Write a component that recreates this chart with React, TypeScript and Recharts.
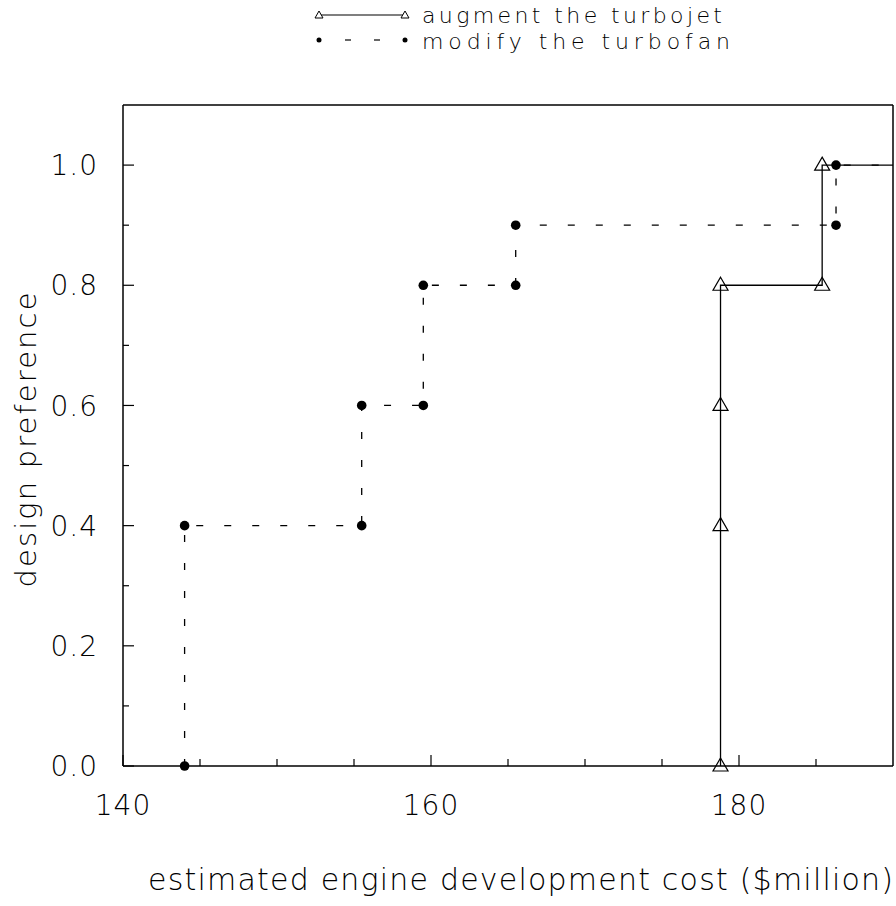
import React from 'react';
import { LineChart, Line, XAxis, YAxis, Legend, Label } from 'recharts';

// step curves (cost in $million, preference 0..1)
const turbojetCost = [178.8, 178.8, 178.8, 178.8, 185.4, 185.4, 190];
const turbojetPref = [0, 0.4, 0.6, 0.8, 0.8, 1.0, 1.0];
const turbofanCost = [144, 144, 155.5, 155.5, 159.5, 159.5, 165.5, 165.5, 186.3, 186.3, 190];
const turbofanPref = [0, 0.4, 0.4, 0.6, 0.6, 0.8, 0.8, 0.9, 0.9, 1.0, 1.0];

const costTicks = [140, 145, 150, 155, 160, 165, 170, 175, 180, 185];
const costLabels = [140, 160, 180];
const prefTicks = [0, 0.1, 0.2, 0.3, 0.4, 0.5, 0.6, 0.7, 0.8, 0.9, 1.0];
const prefLabels = [0, 0.2, 0.4, 0.6, 0.8, 1.0];

const turbojet = turbojetCost.map((cost, i) => ({ cost, pref: turbojetPref[i] }));
const turbofan = turbofanCost.map((cost, i) => ({ cost, pref: turbofanPref[i] }));

const FONT = "'DejaVu Sans', sans-serif";
const INK = '#000';
const X_MARGIN = 49;
const Y_MARGIN = 25;

const isLabel = (list: number[], v: number) => list.some((l) => Math.abs(l - v) < 1e-6);

const BottomTick = ({ x, y, payload }: any) => {
  const major = isLabel(costLabels, payload.value);
  const axisY = y - X_MARGIN;
  return (
    <g>
      <line x1={x} x2={x} y1={axisY} y2={axisY - (major ? 11 : 7)} stroke={INK} strokeWidth={1.2} />
      {major && (
        <text x={x} y={y} textAnchor="middle" fontFamily={FONT} fontWeight={200} fontSize={28} fill={INK} letterSpacing={1}>
          {payload.value}
        </text>
      )}
    </g>
  );
};

const TopTick = ({ x, y, payload }: any) => {
  const major = isLabel(costLabels, payload.value);
  return <line x1={x} x2={x} y1={y} y2={y + (major ? 11 : 7)} stroke={INK} strokeWidth={1.2} />;
};

const LeftTick = ({ x, y, payload }: any) => {
  const major = isLabel(prefLabels, payload.value);
  const axisX = x + Y_MARGIN;
  return (
    <g>
      <line x1={axisX} x2={axisX + (major ? 11 : 6)} y1={y} y2={y} stroke={INK} strokeWidth={1.2} />
      {major && (
        <text x={x} y={y} dy="0.36em" textAnchor="end" fontFamily={FONT} fontWeight={200} fontSize={28} fill={INK} letterSpacing={1}>
          {payload.value.toFixed(1)}
        </text>
      )}
    </g>
  );
};

const RightTick = ({ x, y, payload }: any) => {
  const major = isLabel(prefLabels, payload.value);
  return <line x1={x} x2={x - (major ? 11 : 6)} y1={y} y2={y} stroke={INK} strokeWidth={1.2} />;
};

const XTitle = ({ viewBox }: any) => (
  <text x={viewBox.x + 25} y={viewBox.y + 124} fontFamily={FONT} fontWeight={200} fontSize={30} fill={INK}
    textLength={745} lengthAdjust="spacing">
    estimated engine development cost ($million)
  </text>
);

const YTitle = ({ viewBox }: any) => {
  const cx = viewBox.x - 7;
  const cy = 440;
  return (
    <text x={cx} y={cy} transform={`rotate(-90, ${cx}, ${cy})`} textAnchor="middle" fontFamily={FONT} fontWeight={200}
      fontSize={29} fill={INK} textLength={295} lengthAdjust="spacing">
      design preference
    </text>
  );
};

const Triangle = (props: any) => {
  const { cx, cy, index } = props;
  if (index === turbojet.length - 1) return <g key={`t${index}`} />;
  return (
    <path key={`t${index}`} d={`M${cx},${cy - 8} L${cx + 7.5},${cy + 5} L${cx - 7.5},${cy + 5} Z`}
      fill="none" stroke={INK} strokeWidth={1.2} />
  );
};

const Bullet = (props: any) => {
  const { cx, cy, index } = props;
  if (index === turbofan.length - 1) return <g key={`b${index}`} />;
  return <circle key={`b${index}`} cx={cx} cy={cy} r={4.8} fill={INK} />;
};

const LegendBox = ({ payload }: any) => {
  const rows = payload || [];
  return (
    <svg width={896} height={60}>
      {rows.map((entry: any) => {
        const dashed = entry.value === 'modify the turbofan';
        const sy = dashed ? 40 : 15;
        const ty = dashed ? 49 : 23;
        return (
          <g key={entry.value}>
            {dashed ? (
              <g>
                <circle cx={319} cy={sy} r={2.5} fill={INK} />
                <line x1={345} x2={351} y1={sy} y2={sy} stroke={INK} strokeWidth={1.2} />
                <line x1={374} x2={380} y1={sy} y2={sy} stroke={INK} strokeWidth={1.2} />
                <circle cx={405} cy={sy} r={2.5} fill={INK} />
              </g>
            ) : (
              <g>
                <line x1={319} x2={405} y1={sy} y2={sy} stroke={INK} strokeWidth={1.2} />
                <path d={`M319,${sy - 4} L323,${sy + 3} L315,${sy + 3} Z`} fill="#fff" stroke={INK} strokeWidth={1} />
                <path d={`M405,${sy - 4} L409,${sy + 3} L401,${sy + 3} Z`} fill="#fff" stroke={INK} strokeWidth={1} />
              </g>
            )}
            <text x={422} y={ty} fontFamily={FONT} fontWeight={200} fontSize={22} fill={INK}
              textLength={dashed ? 308 : 300} lengthAdjust="spacing">
              {entry.value}
            </text>
          </g>
        );
      })}
    </svg>
  );
};

export default function App() {
  return (
    <div style={{ position: 'fixed', left: 0, top: 0, width: 896, height: 906, overflow: 'hidden', background: '#fff' }}>
      <LineChart width={896} height={906} margin={{ top: 100, right: 0, bottom: 80, left: 43 }}>
        <XAxis dataKey="cost" type="number" domain={[140, 190]} ticks={costTicks} interval={0}
          tick={<BottomTick />} tickLine={false} tickSize={0} tickMargin={X_MARGIN} height={60}
          axisLine={{ stroke: INK, strokeWidth: 1.5 }}>
          <Label content={<XTitle />} />
        </XAxis>
        <XAxis xAxisId="top" orientation="top" dataKey="cost" type="number" domain={[140, 190]} ticks={costTicks}
          interval={0} tick={<TopTick />} tickLine={false} tickSize={0} tickMargin={0} height={5}
          axisLine={{ stroke: INK, strokeWidth: 1.5 }} />
        <YAxis dataKey="pref" type="number" domain={[0, 1.1]} ticks={prefTicks} interval={0}
          tick={<LeftTick />} tickLine={false} tickSize={0} tickMargin={Y_MARGIN} width={80}
          axisLine={{ stroke: INK, strokeWidth: 1.5 }}>
          <Label content={<YTitle />} />
        </YAxis>
        <YAxis yAxisId="right" orientation="right" dataKey="pref" type="number" domain={[0, 1.1]} ticks={prefTicks}
          interval={0} tick={<RightTick />} tickLine={false} tickSize={0} tickMargin={0} width={3}
          axisLine={{ stroke: INK, strokeWidth: 1.5 }} />
        <Legend verticalAlign="middle" align="center" layout="horizontal"
          wrapperStyle={{ top: 0, left: 0, width: 896, height: 60 }} content={<LegendBox />} />
        <Line data={turbofan} dataKey="pref" name="modify the turbofan" type="linear" stroke={INK}
          strokeWidth={1.3} strokeDasharray="7 21" dot={Bullet} activeDot={false} legendType="circle"
          isAnimationActive={false} />
        <Line data={turbojet} dataKey="pref" name="augment the turbojet" type="linear" stroke={INK}
          strokeWidth={1.3} dot={Triangle} activeDot={false} legendType="triangle"
          isAnimationActive={false} />
      </LineChart>
    </div>
  );
}
